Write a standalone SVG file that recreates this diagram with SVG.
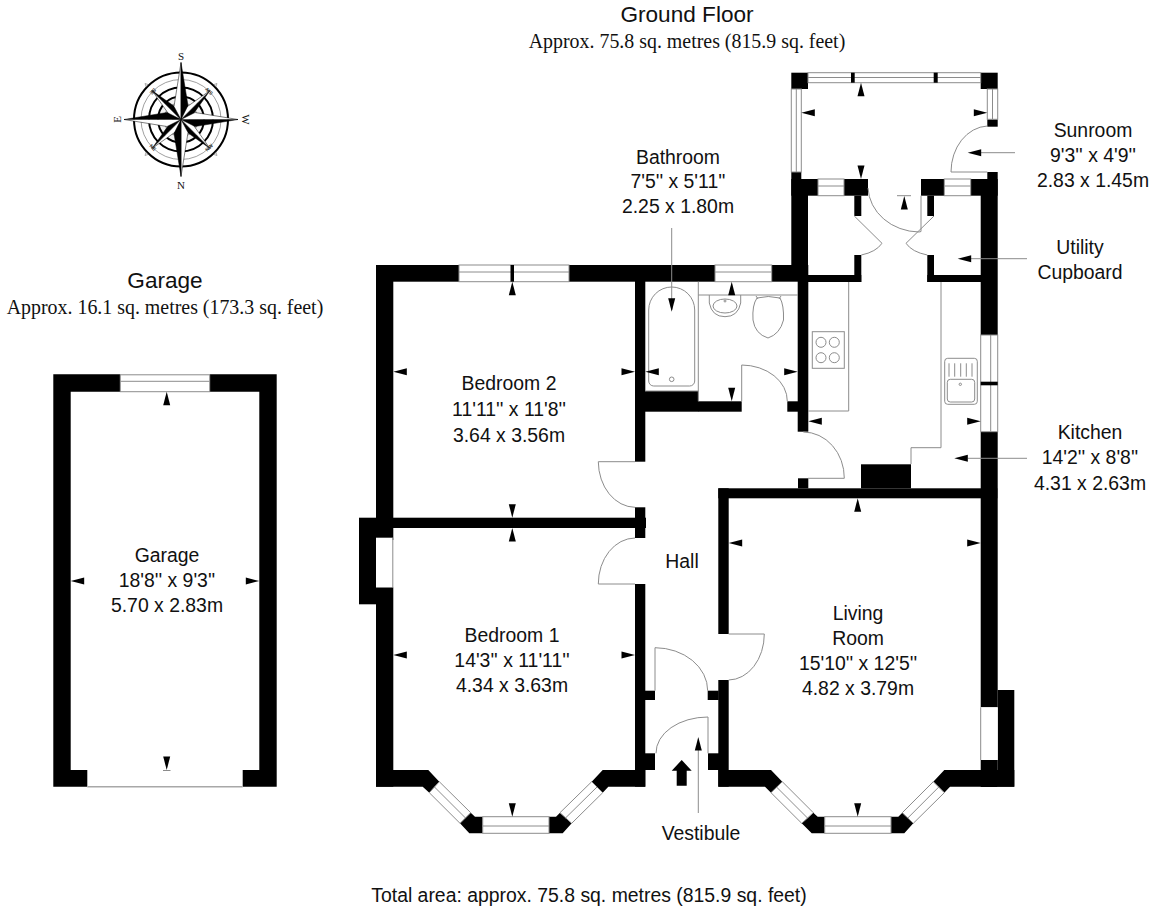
<svg xmlns="http://www.w3.org/2000/svg" width="1160" height="920" viewBox="0 0 1160 920">
<style>
.w{fill:#000}
.g{fill:#fff;stroke:#8c8c8c;stroke-width:1}
.a{fill:#fff}
.l{fill:none;stroke:#8c8c8c;stroke-width:1}
.t{font-family:"Liberation Sans",Arial,sans-serif;font-size:19.4px;fill:#111;text-anchor:middle}
.h{font-family:"Liberation Sans",Arial,sans-serif;font-size:22.6px;fill:#111;text-anchor:middle}
.s{font-family:"Liberation Serif","Times New Roman",serif;font-size:19.9px;fill:#111;text-anchor:middle}
.c{font-family:"Liberation Serif","Times New Roman",serif;font-size:11px;fill:#111;text-anchor:middle}
.m{font-family:"Liberation Sans",Arial,sans-serif;font-size:5px;font-weight:bold;fill:#333;text-anchor:middle}
</style>
<defs>
<polygon id="u" points="0,0 3.5,13.5 -3.5,13.5" fill="#000"/>
<polygon id="d" points="0,0 3.5,-13.5 -3.5,-13.5" fill="#000"/>
<polygon id="le" points="0,0 13.5,-3.5 13.5,3.5" fill="#000"/>
<polygon id="r" points="0,0 -13.5,-3.5 -13.5,3.5" fill="#000"/>
</defs>
<rect width="1160" height="920" fill="#fff"/>

<g id="titles">
<text class="h" x="687" y="22">Ground Floor</text>
<text class="s" x="687" y="48">Approx. 75.8 sq. metres (815.9 sq. feet)</text>
<text class="h" x="165" y="288">Garage</text>
<text class="s" x="165" y="314">Approx. 16.1 sq. metres (173.3 sq. feet)</text>
<text class="t" x="589" y="902">Total area: approx. 75.8 sq. metres (815.9 sq. feet)</text>
</g>

<g id="compass" transform="translate(181 119.5)">
<circle r="47" fill="#fff" stroke="#000" stroke-width="2"/>
<circle r="40" fill="none" stroke="#777" stroke-width=".7"/>
<circle r="32" fill="none" stroke="#000" stroke-width="2"/>
<circle r="23" fill="#f2f2f2" stroke="#000" stroke-width="2"/>
<circle r="17" fill="#d8d8d8" stroke="#777" stroke-width=".7"/>
<g fill="#fff" stroke="#777" stroke-width=".6">
<polygon points="-36,-36 -33,-35 -35,-33"/><polygon points="36,-36 33,-35 35,-33"/><polygon points="-36,36 -33,35 -35,33"/><polygon points="36,36 33,35 35,33"/>
</g>
<g stroke="#000" stroke-width=".5">
<polygon points="0,0 -29,-29 -5,-5" fill="#000"/><polygon points="0,0 -29,-29 -7,2" fill="#fff"/>
<polygon points="0,0 -29,-29 2,-7" fill="#000"/>
<polygon points="0,0 29,-29 7,2" fill="#000"/><polygon points="0,0 29,-29 -2,-7" fill="#fff"/>
<polygon points="0,0 29,29 -2,7" fill="#000"/><polygon points="0,0 29,29 7,-2" fill="#fff"/>
<polygon points="0,0 -29,29 -7,-2" fill="#000"/><polygon points="0,0 -29,29 2,7" fill="#fff"/>
<polygon points="0,0 0,-57 -7,-13" fill="#fff"/><polygon points="0,0 0,-57 7,-14" fill="#000"/>
<polygon points="0,0 0,57 7,13" fill="#fff"/><polygon points="0,0 0,57 -7,14" fill="#000"/>
<polygon points="0,0 -57,0 -14,-7" fill="#000"/><polygon points="0,0 -57,0 -14,7" fill="#fff"/>
<polygon points="0,0 57,0 14,7" fill="#000"/><polygon points="0,0 57,0 14,-7" fill="#fff"/>
</g>
<text class="m" transform="translate(-28 -28) rotate(135)" y="1.8">SE</text>
<text class="m" transform="translate(28 -28) rotate(-135)" y="1.8">SW</text>
<text class="m" transform="translate(-28 28) rotate(45)" y="1.8">NE</text>
<text class="m" transform="translate(28 28) rotate(-45)" y="1.8">NW</text>
<text class="c" transform="translate(0 -63)" y="3.5">S</text>
<text class="c" transform="translate(0 66)" y="3.5">N</text>
<text class="c" transform="translate(-64 0) rotate(-90)" y="3.5">E</text>
<text class="c" transform="translate(64 0) rotate(90)" y="3.5">W</text>
</g>

<g id="garage">
<path class="w" d="M53.3 374.3H120.3V391.7H70.7V770H87.3V786.7H53.3ZM209.7 374.3H276.7V786.7H242.7V770H259.3V391.7H209.7Z"/>
<rect class="g" x="120.3" y="374.8" width="89.4" height="16.9"/>
<path class="l" d="M120.3 381.3H209.7"/>
<path d="M87.3 786.7H242.7" fill="none" stroke="#a8a8a8" stroke-width="1.5"/>
<path class="l" d="M163 770.5H170.5"/>
<use href="#u" x="166.7" y="391.7"/><use href="#d" x="166.7" y="770"/><use href="#le" x="70.7" y="581"/><use href="#r" x="259.3" y="581"/>
<text class="t" x="167" y="562">Garage</text>
<text class="t" x="167" y="587">18'8'' x 9'3''</text>
<text class="t" x="167" y="612">5.70 x 2.83m</text>
</g>

<g id="walls">
<rect class="w" x="376" y="265" width="83" height="16.7"/>
<rect class="w" x="569" y="265" width="146" height="16.7"/>
<rect class="w" x="771.7" y="265" width="36.3" height="16.7"/>
<rect class="w" x="635" y="265" width="10.3" height="196.7"/>
<rect class="w" x="376" y="265" width="17.3" height="275"/>
<rect class="w" x="359" y="517.7" width="17" height="86.6"/>
<rect class="w" x="376" y="517.7" width="270" height="10.3"/>
<rect class="w" x="376" y="587.3" width="17.3" height="199.4"/>
<rect class="w" x="635" y="507.3" width="10.3" height="30.7"/>
<rect class="w" x="635" y="584" width="10.3" height="202.7"/>
<rect class="w" x="645" y="690.7" width="10" height="9.3"/>
<rect class="w" x="645" y="753.3" width="10" height="16.7"/>
<rect class="w" x="707.7" y="690.7" width="11" height="9.3"/>
<rect class="w" x="708" y="753.3" width="11" height="16.7"/>
<rect class="w" x="718.3" y="488.3" width="10.4" height="145.7"/>
<rect class="w" x="718.3" y="680" width="10.4" height="106.7"/>
<rect class="w" x="718.3" y="488.3" width="279" height="10"/>
<rect class="w" x="798" y="478.3" width="10.3" height="10"/>
<rect class="w" x="861" y="464.3" width="50" height="24"/>
<rect class="w" x="980.7" y="179" width="17" height="156"/>
<rect class="w" x="980.7" y="431.7" width="17" height="275.6"/>
<rect class="w" x="980.7" y="760" width="17" height="27"/>
<rect class="w" x="997.7" y="690" width="16.6" height="96.7"/>
<rect class="w" x="645" y="391" width="53.3" height="20.7"/>
<rect class="w" x="698" y="401.3" width="43.7" height="10.4"/>
<rect class="w" x="787.3" y="401.3" width="11" height="10.4"/>
<rect class="w" x="797.7" y="265" width="10.6" height="166.7"/>
<rect class="w" x="791.3" y="72.7" width="16.7" height="16.3"/>
<rect class="w" x="980.7" y="72.7" width="17" height="16.3"/>
<rect class="w" x="987.3" y="119.3" width="10.4" height="7.4"/>
<rect class="w" x="987.3" y="172" width="10.4" height="7"/>
<rect class="w" x="791.3" y="172" width="10" height="7"/>
<rect class="w" x="791.3" y="179" width="16.7" height="102"/>
<rect class="w" x="791.3" y="179" width="26.7" height="16.7"/>
<rect class="w" x="844" y="179" width="24" height="16.7"/>
<rect class="w" x="854.3" y="195.7" width="7" height="20.3"/>
<rect class="w" x="854.3" y="255" width="7" height="27"/>
<rect class="w" x="808" y="275" width="53.3" height="7"/>
<rect class="w" x="921" y="179" width="23.3" height="16.7"/>
<rect class="w" x="927.3" y="195.7" width="6.7" height="20.3"/>
<rect class="w" x="927.3" y="255" width="6.7" height="27"/>
<rect class="w" x="927.3" y="275" width="54" height="7"/>
<rect class="w" x="970.7" y="179" width="27" height="16.7"/>
<polygon class="w" points="376,770 428.3,770 439.3,781.7 429.3,792.7 422.7,786.7 376,786.7"/>
<polygon class="w" points="470.7,812.7 475,816.7 482.7,816.7 482.7,833.3 469.3,833.3 460,823.3"/>
<polygon class="w" points="549,816.7 556,816.7 560,812.7 571.7,823.3 562.7,833.3 549,833.3"/>
<polygon class="w" points="591.7,781.7 602.7,770 645.3,770 645.3,786.7 608.3,786.7 602.7,792.7"/>
<polygon class="w" points="718.3,770 771,770 782.3,781.7 771,792.7 765,786.7 718.3,786.7"/>
<polygon class="w" points="813.3,812.7 817.7,816.7 824.7,816.7 824.7,833.3 811.7,833.3 801.7,823.3"/>
<polygon class="w" points="891,816.7 898.3,816.7 902.3,812.7 913.3,823.3 904.3,833.3 891,833.3"/>
<polygon class="w" points="933.3,781.7 944.3,770 1014.3,770 1014.3,786.7 950,786.7 944.3,792.7"/>
</g>

<g id="windows">
<rect class="g" x="459" y="265" width="110" height="16.7"/><path class="l" d="M459 272H569"/><rect class="w" x="510.5" y="265" width="3.5" height="16.7"/>
<rect class="g" x="715" y="265" width="56.7" height="16.7"/><path class="l" d="M715 272H771.7"/>
<rect class="g" x="808" y="72.7" width="172.7" height="10"/><path class="l" d="M808 77.5H980.7"/>
<rect class="w" x="851" y="72.7" width="3.7" height="10"/><rect class="w" x="933.7" y="72.7" width="4" height="10"/>
<rect class="g" x="791.3" y="89" width="10" height="83"/><path class="l" d="M796.3 89V172"/>
<rect class="g" x="987.3" y="89" width="10.4" height="30.3"/><path class="l" d="M992.5 89V119.3"/>
<rect class="g" x="818" y="179" width="26" height="16.7"/><path class="l" d="M818 186H844"/>
<rect class="g" x="944.3" y="179" width="26.4" height="16.7"/><path class="l" d="M944.3 186H970.7"/>
<rect class="g" x="980.7" y="335" width="17" height="96.7"/><path class="l" d="M990.7 335V431.7"/><rect class="w" x="980.7" y="381.7" width="17" height="3.6"/>
<rect class="a" x="376" y="537.7" width="16.7" height="49.6"/><path class="l" d="M392.8 537.7V587.3"/>
<rect class="a" x="980.7" y="707.3" width="17" height="52.7"/><path class="l" d="M980.7 707.3V760"/>
<rect class="g" x="482.7" y="816.7" width="66.3" height="16.6"/><path class="l" d="M482.7 826H549"/>
<rect class="g" x="824.7" y="816.7" width="66.3" height="16.6"/><path class="l" d="M824.7 826H891"/>
<polygon class="g" points="439.3,781.7 470.7,812.7 460,823.3 429.3,792.7"/><path class="l" d="M434.5 787L465.5 818"/>
<polygon class="g" points="560,812.7 591.7,781.7 602.7,792.7 571.7,823.3"/><path class="l" d="M565.5 818L597 787"/>
<polygon class="g" points="782.3,781.7 813.3,812.7 801.7,823.3 771,792.7"/><path class="l" d="M776.5 787L807.5 818"/>
<polygon class="g" points="902.3,812.7 933.3,781.7 944.3,792.7 913.3,823.3"/><path class="l" d="M907.8 818L938.8 787"/>
</g>

<g id="doors" class="l">
<path d="M598.3 461.7H635M598.3 461.7A37 46 0 0 0 635 507.3"/>
<path d="M598.3 584H635M598.3 584A37 46 0 0 1 635 538"/>
<path d="M655 690.7V647.7A53 43 0 0 1 707.7 690.7"/>
<path d="M728.7 634H764.3A36 46 0 0 1 728.7 680"/>
<path d="M708 753.3V717A52 36 0 0 0 656 753.3"/>
<path d="M741.7 401.3V365A46 36 0 0 1 787.3 401.3"/>
<path d="M808 478.3H844.3A41 46 0 0 0 803.3 432"/>
<path d="M987.3 172H951A38 46 0 0 1 987.3 126"/>
<path d="M921 195.7V231.5L919 232A52 46 0 0 1 868 188"/>
<path d="M854.3 216L882 243.3Q876 252 861.3 255"/>
<path d="M934 216L906 243.3Q912 252 927.3 255"/>
</g>

<g id="fixtures" class="l">
<path d="M698.3 281.7V401.3M698.3 295H798"/>
<path d="M645 391H698.3"/>
<path d="M648.7 310A23 23 0 0 1 694.7 310V381A5 5 0 0 1 689.7 386H653.7A5 5 0 0 1 648.7 381Z"/>
<circle cx="671.7" cy="379.3" r="2.3"/>
<path d="M709.3 295V303Q712 316.7 725 316.7T740.7 303V295"/>
<ellipse cx="725" cy="306" rx="12" ry="7"/>
<circle cx="725" cy="301" r="1"/>
<path d="M757 298Q768 295 780 298Q784 305 783.5 320Q780 334 768 338Q755 334 753 320Q752 305 757 298Z"/>
<path d="M756 296L758 299M781 296L779 299"/>
<path d="M808 411H848.7V282"/>
<rect x="812.3" y="331.7" width="32" height="36.6"/>
<circle cx="821" cy="342.3" r="5"/><circle cx="834.3" cy="342.3" r="5"/><circle cx="821" cy="357.7" r="5"/><circle cx="834.3" cy="357.7" r="5"/>
<path d="M941 282V447.7H911V464"/>
<rect x="944.7" y="358.3" width="32.6" height="46" rx="3"/>
<rect x="947.3" y="379.3" width="27.4" height="22.7" rx="3"/>
<path d="M949 363.3V376.7M954.7 363.3V376.7M960.7 363.3V376.7M966.3 363.3V376.7M972 363.3V376.7"/>
<circle cx="960.3" cy="384.3" r="1.2"/>
<path d="M897 195.7H911"/>
</g>

<g id="connectors" class="l">
<path d="M671.7 228V310"/>
<path d="M981 152.7H1015"/>
<path d="M971 258.7H1027"/>
<path d="M967.7 458.3H1027"/>
<path d="M698.3 750V813"/>
</g>

<g id="arrows">
<use href="#u" x="861" y="82.7"/><use href="#le" x="801.3" y="112.7"/><use href="#r" x="987.3" y="112.7"/><use href="#d" x="861" y="179"/>
<use href="#u" x="904.3" y="196"/>
<use href="#le" x="967.7" y="152.7"/><use href="#le" x="957.7" y="258.7"/><use href="#le" x="954.3" y="458.3"/>
<use href="#le" x="808.3" y="421.3"/><use href="#r" x="980.7" y="421.3"/><use href="#u" x="857.7" y="498.3"/>
<use href="#d" x="671.7" y="311.7"/><use href="#u" x="731.7" y="281.7"/><use href="#d" x="731.7" y="401.3"/>
<use href="#r" x="797.7" y="371.7"/><use href="#le" x="645.3" y="371.7"/>
<use href="#r" x="635" y="371.7"/><use href="#le" x="393.3" y="371.7"/><use href="#u" x="512.3" y="281.7"/><use href="#d" x="512.3" y="517.7"/>
<use href="#u" x="512.3" y="528"/><use href="#le" x="393.3" y="655"/><use href="#r" x="635" y="655"/><use href="#d" x="512.3" y="816.7"/>
<use href="#le" x="728.7" y="543"/><use href="#r" x="980.7" y="543"/><use href="#d" x="857.7" y="816.7"/>
<use href="#u" x="698.3" y="737"/>
<polygon points="681.7,760 691.7,770.7 686.7,770.7 686.7,785.7 676.7,785.7 676.7,770.7 671.7,770.7" fill="#000"/>
</g>

<g id="labels">
<g id="bedroom2"><text class="t" x="509" y="390">Bedroom 2</text><text class="t" x="509" y="416">11'11'' x 11'8''</text><text class="t" x="509" y="442">3.64 x 3.56m</text></g>
<g id="bedroom1"><text class="t" x="512" y="642">Bedroom 1</text><text class="t" x="512" y="667">14'3'' x 11'11''</text><text class="t" x="512" y="692">4.34 x 3.63m</text></g>
<g id="hall"><text class="t" x="682" y="568">Hall</text></g>
<g id="living"><text class="t" x="858" y="620">Living</text><text class="t" x="858" y="645">Room</text><text class="t" x="858" y="670">15'10'' x 12'5''</text><text class="t" x="858" y="695">4.82 x 3.79m</text></g>
<g id="bathroom"><text class="t" x="678" y="164">Bathroom</text><text class="t" x="678" y="188">7'5'' x 5'11''</text><text class="t" x="678" y="213">2.25 x 1.80m</text></g>
<g id="sunroom"><text class="t" x="1093" y="137">Sunroom</text><text class="t" x="1093" y="162">9'3'' x 4'9''</text><text class="t" x="1093" y="187">2.83 x 1.45m</text></g>
<g id="utility"><text class="t" x="1080" y="254">Utility</text><text class="t" x="1080" y="279">Cupboard</text></g>
<g id="kitchen"><text class="t" x="1090" y="439">Kitchen</text><text class="t" x="1090" y="464">14'2'' x 8'8''</text><text class="t" x="1090" y="490">4.31 x 2.63m</text></g>
<g id="vestibule"><text class="t" x="701" y="840">Vestibule</text></g>
</g>
</svg>
